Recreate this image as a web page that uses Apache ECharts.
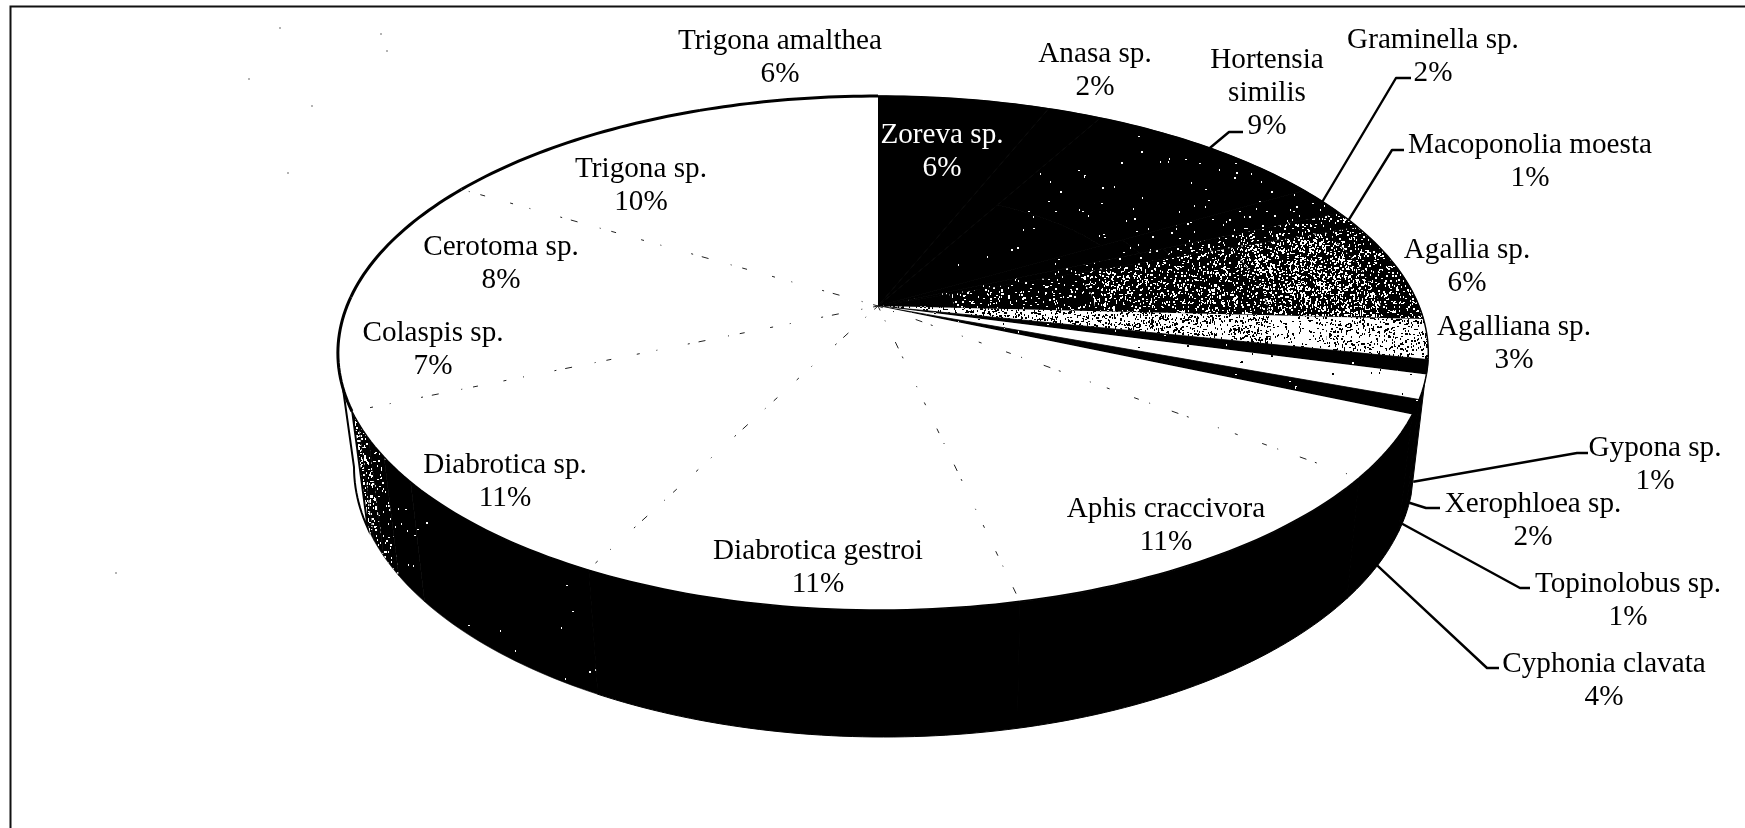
<!DOCTYPE html>
<html>
<head>
<meta charset="utf-8">
<style>html,body{margin:0;padding:0;background:#fff}#c{width:1745px;height:828px}</style>
<script src="https://cdn.jsdelivr.net/npm/echarts@6/dist/echarts.min.js"></script>
</head>
<body>
<div id="c"></div>
<script>
// ---- data (clockwise from 12 o'clock) ----
const categories = ['Zoreva sp.','Anasa sp.','Hortensia\nsimilis','Graminella sp.','Macoponolia moesta','Agallia sp.','Agalliana sp.','Gypona sp.','Xerophloea sp.','Topinolobus sp.','Cyphonia clavata','Aphis craccivora','Diabrotica gestroi','Diabrotica sp.','Colaspis sp.','Cerotoma sp.','Trigona sp.','Trigona amalthea'];
const values = [6,1.9,8.6,1.9,1.1,6.3,2.5,0.9,1.5,0.9,3.9,11,11,11,7,8,10,6.4];
const percentLabels = ['6%','2%','9%','2%','1%','6%','3%','1%','2%','1%','4%','11%','11%','11%','7%','8%','10%','6%'];

// ---- layout and style ----
const labelCentres = [[942,152],[1095,71],[1267,93],[1433,57],[1530,162],[1467,267],[1514,344],[1655,465],[1533,521],[1628,601],[1604,681],[1166,526],[818,568],[505,482],[433,350],[501,264],[641,186],[780,58]];
// leader: [elbow x, elbow y, end x, side] side: 'rim' attaches to the top face, 'wall' to the lower edge
const leaders = {2:[1229,132,1243,'rim'],3:[1396,78,1411,'rim'],4:[1392,150,1404,'rim'],7:[1577,453,1588,'wall'],8:[1426,508,1440,'wall'],9:[1520,588,1530,'wall'],10:[1487,668,1499,'wall']};
const K='#000', W='#fff';
// bands: [inner radius, outer radius, background, speck colour, speck density]
const faceFills = [
  [[0,1,K,W,0]],
  [[0,1,K,W,0]],
  [[0,0.5,K,W,0.001],[0.5,1,K,W,0.004]],
  [[0,0.55,K,W,0.003],[0.55,1,K,W,0.012]],
  [[0,0.6,K,W,0.03],[0.6,1,K,W,0.1]],
  [[0,0.14,K,W,0.015],[0.14,0.4,K,W,0.07],[0.4,0.72,K,W,0.16],[0.72,0.93,K,W,0.27],[0.93,1,K,W,0.14]],
  [[0,0.45,W,K,0.25],[0.45,0.72,W,K,0.22],[0.72,0.82,W,K,0.08],[0.82,1,W,K,0.16]],
  [[0,1,K,W,0.004]],
  [[0,1,W,K,0.004]],
  [[0,1,K,W,0.004]],
  [[0,1,W,K,0]],[[0,1,W,K,0]],[[0,1,W,K,0]],[[0,1,W,K,0]],[[0,1,W,K,0]],[[0,1,W,K,0]],[[0,1,W,K,0]],[[0,1,W,K,0]]
];
const dottedEdges = [10,11,12,13,15]; // slices whose closing edge shows as faint specks
const scanSpecks = [[280,28],[381,34],[387,51],[249,79],[312,106],[288,173],[116,573]]; // stray scan dust

// perspective of the disc
const apex = {x:878, y:306}, persp = {k:0.183, B:248.4, Ar:541, Al:531};
const rimEll = {cx:883, cy:353, a:545, b:257};
const lowEll = {cx:884, cy:467, a:530, b:270};
const wallFrom = 96*Math.PI/180, wallTo = 270*Math.PI/180;

const total = values.reduce((a,b)=>a+b,0);
const cum = [0]; values.forEach(v=>cum.push(cum[cum.length-1]+v));
const theta = p => p/total*2*Math.PI;
function proj(t,r){
  const u=r*Math.sin(t), v=-r*Math.cos(t), d=1-persp.k*v;
  return [apex.x+(u>0?persp.Ar:persp.Al)*u/d, apex.y+persp.B*v/d];
}
function tauOf(t){
  const p=proj(t,1);
  let a=Math.atan2((p[0]-rimEll.cx)/rimEll.a, -(p[1]-rimEll.cy)/rimEll.b);
  return a<0?a+2*Math.PI:a;
}
const ell=(e,t)=>[e.cx+e.a*Math.sin(t), e.cy-e.b*Math.cos(t)];

// deterministic speck textures (scan grain only, not data)
const cache={};
function tex(bg,fg,d){
  if(!d) return bg;
  const key=bg+fg+d; if(cache[key]) return cache[key];
  const c=document.createElement('canvas'); c.width=c.height=211;
  const g=c.getContext('2d'); g.fillStyle=bg; g.fillRect(0,0,211,211); g.fillStyle=fg;
  for(let y=0;y<211;y++)for(let x=0;x<211;x++){
    const s=Math.sin(x*12.9898+y*78.233)*43758.5453, h=s-Math.floor(s);
    if(h<d*0.55){const s2=(h*9973)%1; g.fillRect(x,y,s2<0.5?2:1,s2>0.3?2:1);}
  }
  return cache[key]={image:c,repeat:'repeat'};
}
function sector(a0,a1,r0,r1){
  const pts=[], n=Math.max(2,Math.ceil((a1-a0)/0.02));
  for(let i=0;i<=n;i++)pts.push(proj(a0+(a1-a0)*i/n,r1));
  if(r0<=0) pts.push(proj(0,0));
  else for(let i=n;i>=0;i--)pts.push(proj(a0+(a1-a0)*i/n,r0));
  return pts;
}
function wallPoly(t0,t1){
  const pts=[], n=Math.max(2,Math.ceil((t1-t0)/0.02));
  for(let i=0;i<=n;i++)pts.push(ell(rimEll,t0+(t1-t0)*i/n));
  for(let i=n;i>=0;i--)pts.push(ell(lowEll,t0+(t1-t0)*i/n));
  return pts;
}
const base={coordinateSystem:'none',silent:true,clip:false,animation:false,data:categories.map((c,i)=>({name:c,value:values[i]}))};

function renderWall(p){
  const i=p.dataIndex; const kids=[];
  const t0=Math.max(tauOf(theta(cum[i])),wallFrom), t1=Math.min(tauOf(theta(cum[i+1])),wallTo);
  const inRange = i>=7 && i<=14 && t1>t0;
  if(!inRange) return {type:'group',children:[]};
  if(categories[i]==='Colaspis sp.'){
    kids.push({type:'polygon',shape:{points:wallPoly(t0,wallTo)},style:{fill:W,stroke:K,lineWidth:2}});
  } else if(categories[i]==='Diabrotica sp.'){
    const L=t1-t0, steps=[[0,0.62,0.001],[0.62,0.76,0.006],[0.76,0.86,0.05],[0.86,0.94,0.16],[0.94,1,0.28]];
    steps.forEach(s=>kids.push({type:'polygon',shape:{points:wallPoly(t0+L*s[0],t0+L*s[1])},style:{fill:tex(K,W,s[2]),stroke:K,lineWidth:0.6}}));
  } else {
    kids.push({type:'polygon',shape:{points:wallPoly(t0,t1)},style:{fill:K,stroke:K,lineWidth:1}});
  }
  return {type:'group',children:kids};
}
function renderFace(p){
  const i=p.dataIndex, a0=theta(cum[i]), a1=theta(cum[i+1]);
  return {type:'group',children:faceFills[i].map(b=>({type:'polygon',shape:{points:sector(a0,a1,b[0],b[1])},
    style:{fill:tex(b[2],b[3],b[4]),stroke:b[2]===K?K:null,lineWidth:0.8}}))};
}
function renderEdge(p){
  const i=p.dataIndex;
  if(dottedEdges.indexOf(i)<0) return {type:'group',children:[]};
  const e=proj(theta(cum[i+1]),1);
  return {type:'line',shape:{x1:apex.x,y1:apex.y,x2:e[0],y2:e[1]},style:{stroke:'#222',lineWidth:1,lineDash:[5,11,1,23,7,9,2,31,1,17,3,26]}};
}
function renderRim(p){
  const i=p.dataIndex, a0=theta(cum[i]), a1=theta(cum[i+1]), n=Math.ceil((a1-a0)/0.02)+1, pts=[];
  for(let j=0;j<=n;j++)pts.push(proj(a0+(a1-a0)*j/n,1));
  return {type:'polyline',shape:{points:pts},style:{fill:null,stroke:K,lineWidth:(i>=14?3:1.5)}};
}
function renderLeader(p){
  const i=p.dataIndex, l=leaders[i];
  if(!l) return {type:'group',children:[]};
  const mid=theta((cum[i]+cum[i+1])/2);
  const s=l[3]==='rim'?proj(mid,1):ell(lowEll,tauOf(mid));
  return {type:'polyline',shape:{points:[s,[l[0],l[1]],[l[2],l[1]]]},style:{fill:null,stroke:K,lineWidth:2.4,lineJoin:'round'}};
}
function renderLabel(p){
  const i=p.dataIndex, c=labelCentres[i];
  return {type:'text',style:{text:categories[i]+'\n'+percentLabels[i],x:c[0],y:c[1],align:'center',verticalAlign:'middle',
    fontFamily:'Liberation Serif',fontSize:29.2,lineHeight:33,fill:i===0?W:K}};
}
const chart=echarts.init(document.getElementById('c'),null,{renderer:'canvas'});
chart.setOption({
  animation:false,
  backgroundColor:'#fff',
  graphic:[
    {type:'polyline',z:1,shape:{points:[[1745,6.5],[10.5,6.5],[10.5,828]]},style:{fill:null,stroke:'#111',lineWidth:2}}
  ].concat(scanSpecks.map(s=>({type:'circle',z:1,shape:{cx:s[0],cy:s[1],r:0.8},style:{fill:'#555'}}))),
  series:[
    Object.assign({},base,{type:'custom',z:2,renderItem:renderWall}),
    Object.assign({},base,{type:'custom',z:3,renderItem:renderFace}),
    Object.assign({},base,{type:'custom',z:4,renderItem:renderEdge}),
    Object.assign({},base,{type:'custom',z:5,renderItem:renderRim}),
    Object.assign({},base,{type:'custom',z:6,renderItem:renderLeader}),
    Object.assign({},base,{type:'custom',z:7,renderItem:renderLabel})
  ]
});
</script>
</body>
</html>
